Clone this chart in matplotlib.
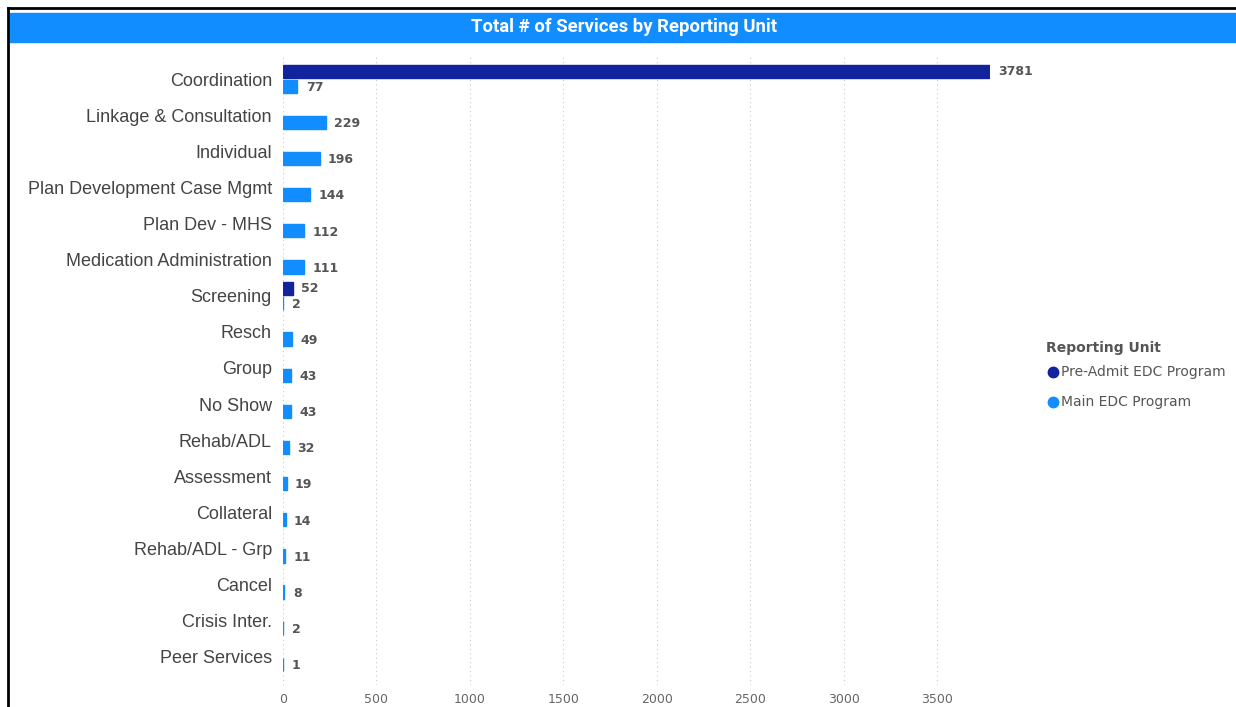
import numpy as np
import matplotlib.pyplot as plt
from matplotlib.patches import Rectangle
from matplotlib.lines import Line2D

# data
categories = ["Coordination", "Linkage & Consultation", "Individual", "Plan Development Case Mgmt",
              "Plan Dev - MHS", "Medication Administration", "Screening", "Resch", "Group",
              "No Show", "Rehab/ADL", "Assessment", "Collateral", "Rehab/ADL - Grp", "Cancel",
              "Crisis Inter.", "Peer Services"]
pre_admit = [3781, None, None, None, None, None, 52, None, None, None, None, None, None, None, None, None, None]
main_edc = [77, 229, 196, 144, 112, 111, 2, 49, 43, 43, 32, 19, 14, 11, 8, 2, 1]
series_names = ["Pre-Admit EDC Program", "Main EDC Program"]
xticks = [0, 500, 1000, 1500, 2000, 2500, 3000, 3500]

c_pre = "#12239E"
c_main = "#118DFF"

fig = plt.figure(figsize=(12.36, 7.07), dpi=100)
W, H = 1236, 707

# frame + title bar
fig.add_artist(Line2D([8 / W, 8 / W], [0, 1 - 8 / H], color="black", lw=2, transform=fig.transFigure))
fig.add_artist(Line2D([8 / W, 1], [1 - 8 / H, 1 - 8 / H], color="black", lw=2, transform=fig.transFigure))
fig.add_artist(Rectangle((10 / W, 1 - 42 / H), 1 - 10 / W, 29 / H, color=c_main,
                         transform=fig.transFigure, zorder=0))
fig.text(624 / W, 1 - 27 / H, "Total # of Services by Reporting Unit", color="white",
         fontsize=13.3, fontweight="bold", family="Roboto", ha="center", va="center")

ax = fig.add_axes([283 / W, 1 - 685 / H, (990 - 283) / W, (685 - 55) / H])

y = np.arange(len(categories))
h = 0.37
pre_vals = [v if v is not None else 0 for v in pre_admit]
pre_edges = [1.0 if v is not None else 0 for v in pre_admit]
ax.barh(y - 0.2, pre_vals, height=h, color=c_pre, edgecolor=c_pre, linewidth=pre_edges, zorder=3)
ax.barh(y + 0.2, main_edc, height=h, color=c_main, edgecolor=c_main, linewidth=1.0, zorder=3)

for i, v in enumerate(pre_admit):
    if v is not None:
        ax.annotate(str(v), (v, i - 0.2), xytext=(6, 0), textcoords="offset points",
                    va="center", ha="left", fontsize=9, fontweight="bold", color="#555555")
for i, v in enumerate(main_edc):
    ax.annotate(str(v), (v, i + 0.2), xytext=(6, -1), textcoords="offset points",
                va="center", ha="left", fontsize=9, fontweight="bold", color="#555555")

ax.set_xlim(0, 3781)
ax.set_ylim(16.776, -0.665)
ax.set_xticks(xticks)
ax.set_xticklabels([str(t) for t in xticks], fontsize=9, color="#666666")
ax.set_yticks(y)
ax.set_yticklabels(categories, fontsize=13, color="#444444", family="Liberation Sans")
ax.tick_params(axis="both", length=0)
ax.tick_params(axis="y", pad=8)
ax.tick_params(axis="x", pad=6)
ax.grid(axis="x", color="#c8c8c8", linestyle=(0, (1, 3)), lw=0.8, zorder=0)
for s in ax.spines.values():
    s.set_visible(False)

# legend
fig.text(1046 / W, 1 - 348 / H, "Reporting Unit", fontsize=10, fontweight="bold",
         color="#555555", va="center", ha="left")
for name, col, yy in [(series_names[0], c_pre, 372), (series_names[1], c_main, 402)]:
    fig.add_artist(Line2D([1053 / W], [1 - yy / H], marker="o", markersize=7.5, color=col,
                          transform=fig.transFigure))
    fig.text(1061 / W, 1 - yy / H, name, fontsize=10, color="#555555", va="center", ha="left")

fig.savefig("out.png", dpi=100)
